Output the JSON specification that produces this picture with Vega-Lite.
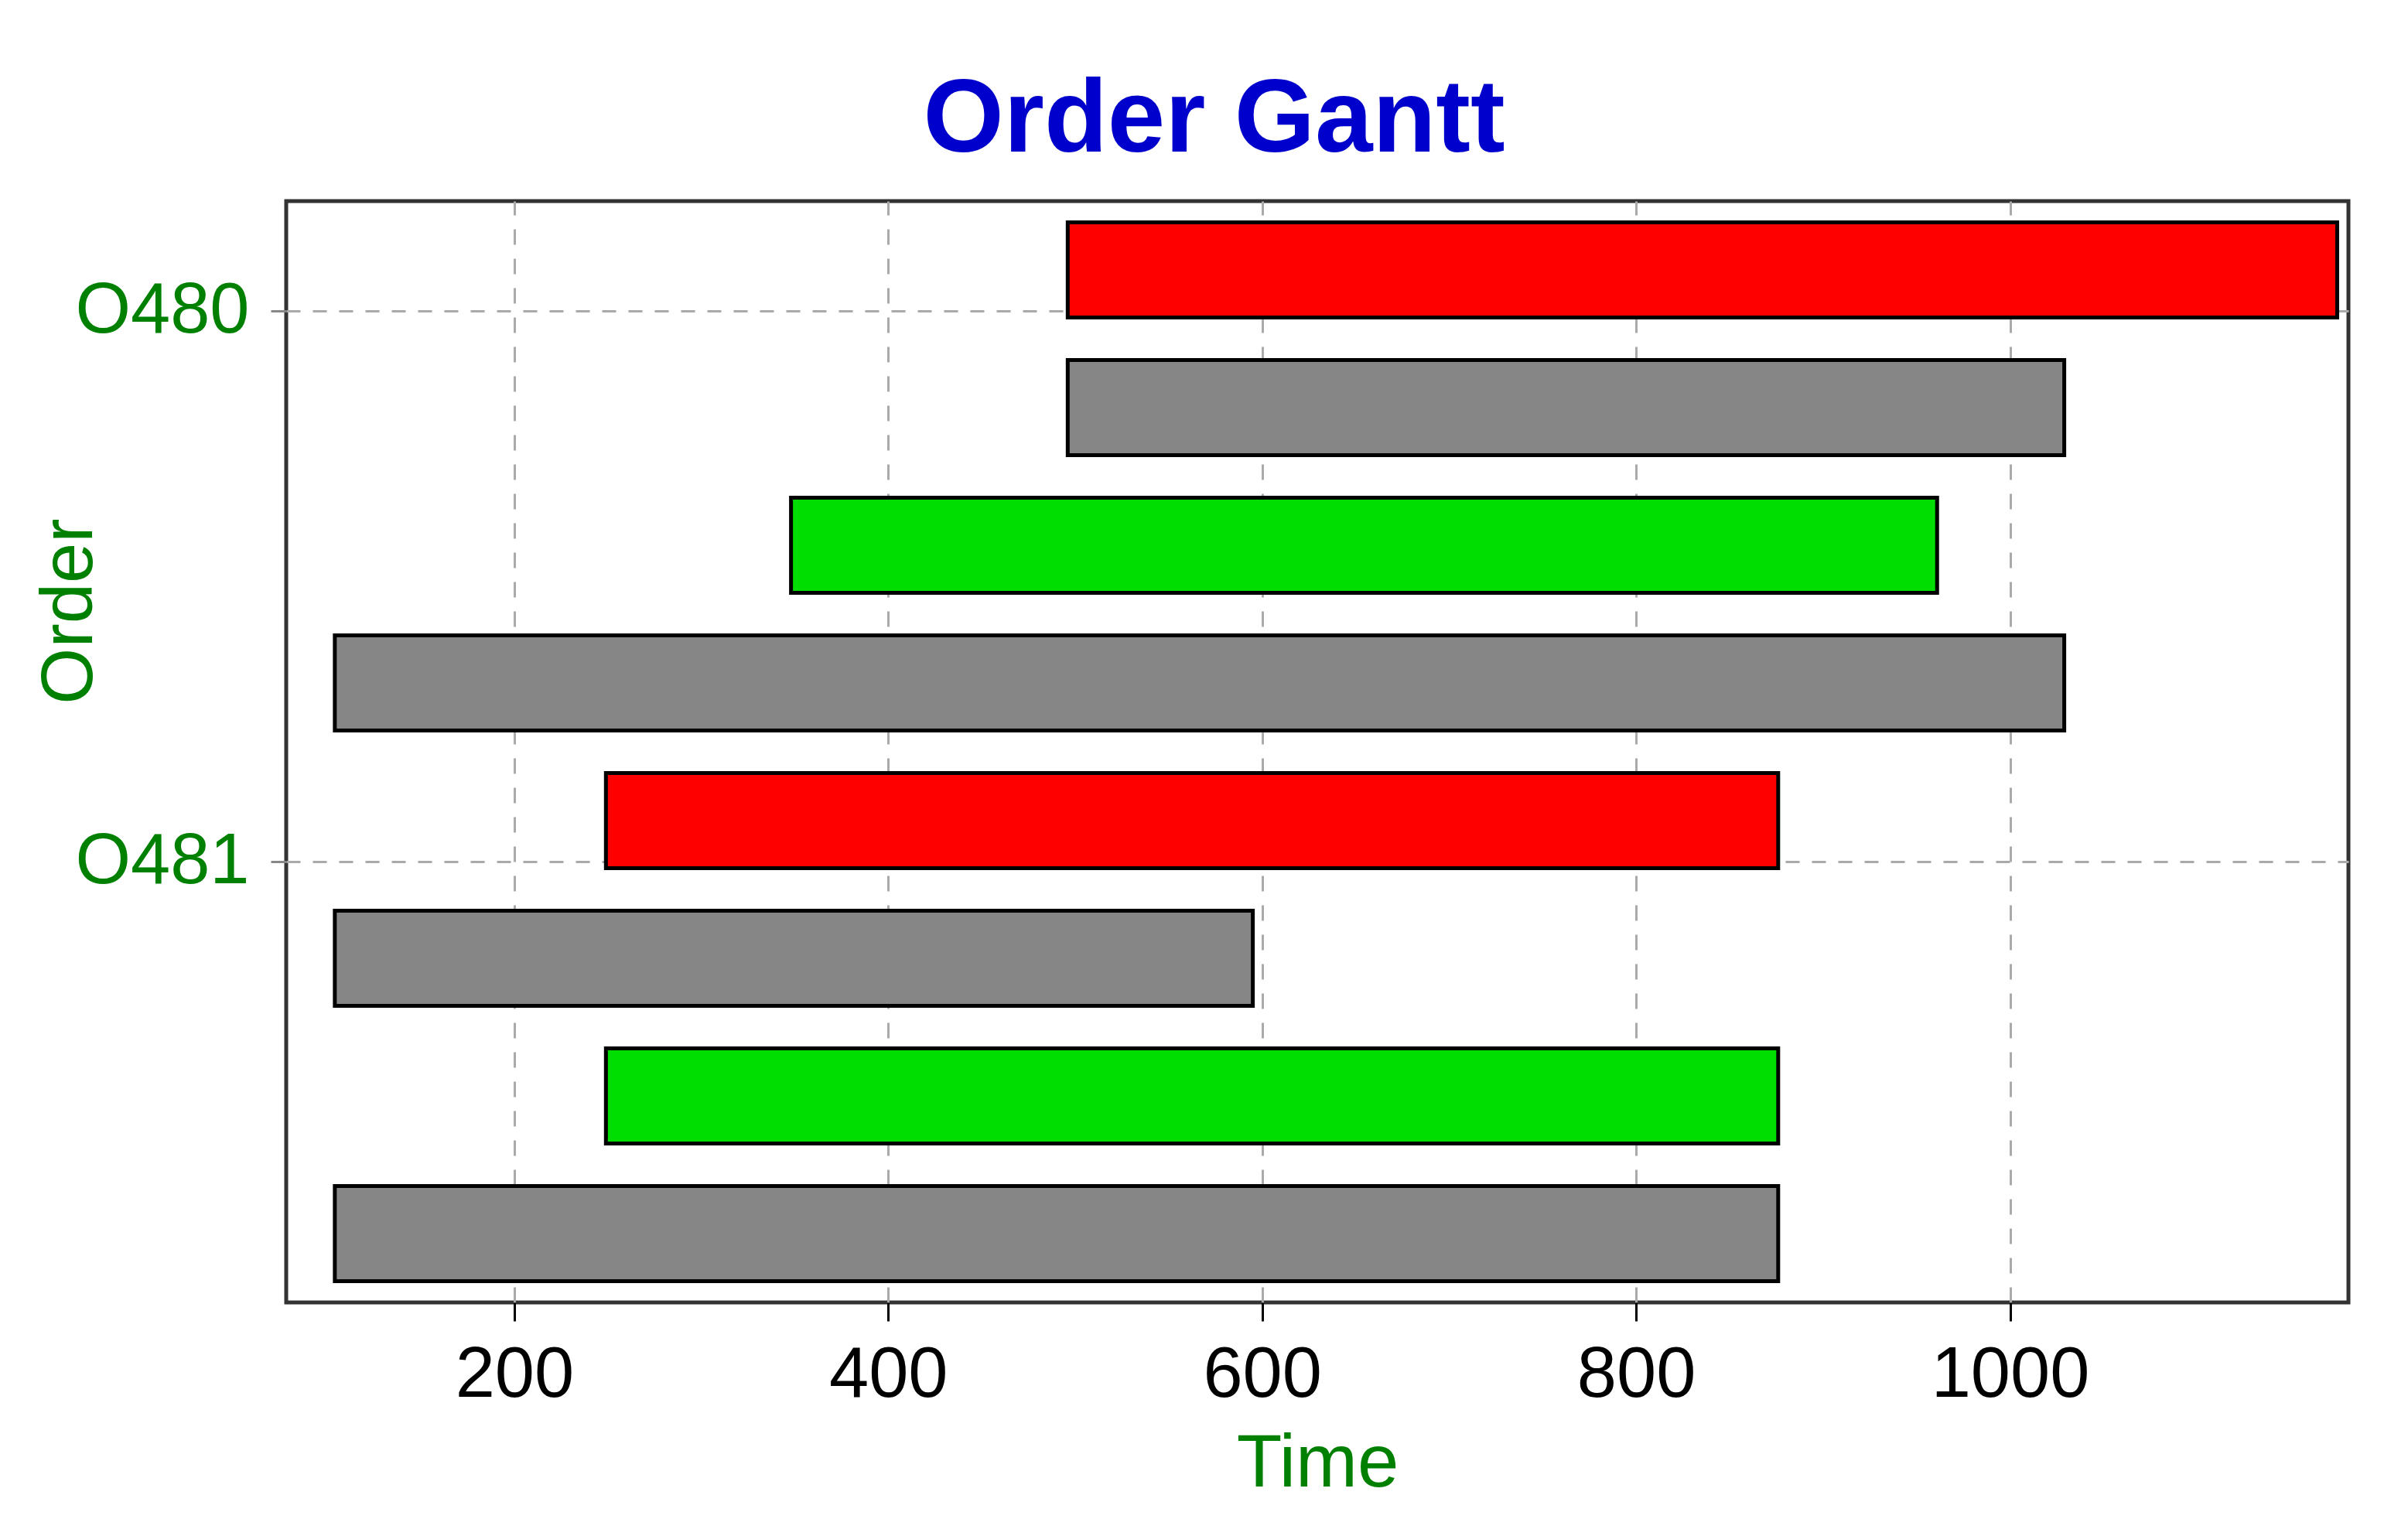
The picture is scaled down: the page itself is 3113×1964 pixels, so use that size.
{
  "$schema": "https://vega.github.io/schema/vega-lite/v6.json",
  "width": 2666,
  "height": 1424,
  "autosize": {"type": "none"},
  "padding": {"left": 370, "top": 260, "right": 77, "bottom": 280},
  "background": "white",
  "title": {
    "text": "Order Gantt",
    "font": "Liberation Sans",
    "fontSize": 134,
    "fontWeight": "bold",
    "color": "#0000CC",
    "anchor": "middle",
    "frame": "bounds",
    "offset": 36,
    "dx": 30
  },
  "data": {
    "values": [
      {"order": "O480", "lane": 1, "status": "Delayed", "start": 496, "end": 1175},
      {"order": "O480", "lane": 2, "status": "Planned", "start": 496, "end": 1029},
      {"order": "O480", "lane": 3, "status": "Completed", "start": 348, "end": 961},
      {"order": "O480", "lane": 4, "status": "Planned", "start": 104, "end": 1029},
      {"order": "O481", "lane": 1, "status": "Delayed", "start": 249, "end": 876},
      {"order": "O481", "lane": 2, "status": "Planned", "start": 104, "end": 595},
      {"order": "O481", "lane": 3, "status": "Completed", "start": 249, "end": 876},
      {"order": "O481", "lane": 4, "status": "Planned", "start": 104, "end": 876}
    ]
  },
  "mark": {"type": "bar", "stroke": "black", "strokeWidth": 5},
  "encoding": {
    "y": {
      "field": "order",
      "type": "nominal",
      "sort": ["O480", "O481"],
      "scale": {"paddingInner": 0, "paddingOuter": 0},
      "title": "Order",
      "axis": {
        "bandPosition": 0.2,
        "grid": true,
        "gridDash": [18, 16],
        "gridColor": "#aaaaaa",
        "gridWidth": 3,
        "domain": false,
        "ticks": true,
        "tickSize": 20,
        "tickColor": "#888888",
        "tickWidth": 3,
        "labelAngle": 0,
        "labelLimit": 0,
        "labelOffset": -214,
        "labelFont": "Liberation Sans",
        "labelFontSize": 92,
        "labelColor": "#008000",
        "labelPadding": 28,
        "titleFont": "Liberation Sans",
        "titleFontSize": 94,
        "titleFontWeight": "normal",
        "titleColor": "#008000",
        "titleX": -232,
        "titleY": 530
      }
    },
    "yOffset": {
      "field": "lane",
      "type": "ordinal",
      "sort": [1, 2, 3, 4],
      "scale": {"paddingInner": 0.31, "paddingOuter": 0.155}
    },
    "x": {
      "field": "start",
      "type": "quantitative",
      "scale": {"domain": [78, 1181], "nice": false, "zero": false},
      "title": "Time",
      "axis": {
        "values": [200, 400, 600, 800, 1000],
        "format": "d",
        "grid": true,
        "gridDash": [20, 18],
        "gridColor": "#aaaaaa",
        "gridWidth": 3,
        "domain": false,
        "tickSize": 24,
        "tickColor": "black",
        "tickWidth": 3,
        "labelLimit": 0,
        "labelFont": "Liberation Sans",
        "labelFontSize": 92,
        "labelColor": "black",
        "labelPadding": 24,
        "titleFont": "Liberation Sans",
        "titleFontSize": 96,
        "titleFontWeight": "normal",
        "titleColor": "#008000",
        "titlePadding": 22
      }
    },
    "x2": {"field": "end"},
    "color": {
      "field": "status",
      "type": "nominal",
      "scale": {"domain": ["Delayed", "Planned", "Completed"], "range": ["#FF0000", "#868686", "#00DD00"]},
      "legend": null
    }
  },
  "config": {"view": {"stroke": "#333333", "strokeWidth": 5}}
}
